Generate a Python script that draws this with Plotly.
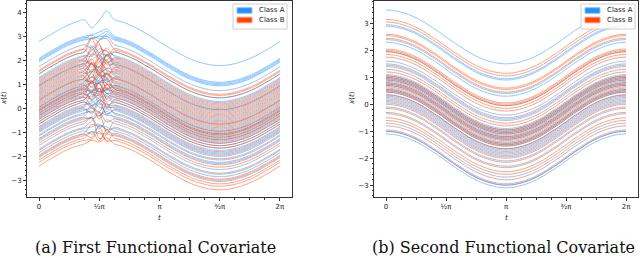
import math
import plotly.graph_objects as go

# ---------------- data ----------------
# sampling positions t = k*pi/16, k = 0..32
t_values = [k * math.pi / 16 for k in range(33)]

# common curve shape of the first covariate (value relative to the curve's value at t=0)
shape_first = [0.00, 0.20, 0.38, 0.56, 0.71, 0.83, 0.92, 0.98, 1.00, 0.98, 0.92, 0.83,
               0.71, 0.56, 0.38, 0.20, 0.00, -0.20, -0.38, -0.56, -0.71, -0.83, -0.92,
               -0.98, -1.00, -0.98, -0.92, -0.83, -0.71, -0.56, -0.38, -0.20, 0.00]
# common curve shape of the second covariate (value relative to the curve's value at t=0)
shape_second = [0.00, -0.02, -0.08, -0.17, -0.29, -0.44, -0.62, -0.80, -1.00, -1.20, -1.38,
                -1.56, -1.71, -1.83, -1.92, -1.98, -2.00, -1.98, -1.92, -1.83, -1.71, -1.56,
                -1.38, -1.20, -1.00, -0.80, -0.62, -0.44, -0.29, -0.17, -0.08, -0.02, 0.00]

# first covariate: curve value at t=0 per curve
first_A_levels = [2.80, 2.10, 2.05, 2.00, 1.95, 1.75, 1.45, 1.30, 1.20, 1.05, 0.95, 0.85,
                  0.70, 0.55, 0.45, 0.35, 0.25, 0.15, 0.05, 0.00, -0.05, -0.10, -0.20,
                  -0.25, -0.30, -0.40, -0.45, -0.55, -0.65, -0.75, -0.85, -0.90, -1.00,
                  -1.10, -1.25, -1.30, -1.55, -1.75, -1.85, -2.05]
# local wiggle near t = pi/2 (added at t = 7pi/16, 8pi/16, 9pi/16)
first_A_wiggles = [(-0.40, -0.10, 0.30), (0.00, 0.10, 0.25), (-0.10, 0.00, 0.20), (0.10, -0.10, 0.15),
                   (0.00, 0.05, 0.10), (-0.20, 0.10, 0.30), (0.20, -0.10, -0.20), (-0.10, 0.20, 0.10),
                   (0.30, 0.00, -0.30), (-0.20, -0.30, 0.20), (0.10, 0.30, -0.10), (-0.30, 0.10, 0.40),
                   (0.20, -0.20, 0.00), (0.00, 0.20, -0.30), (-0.40, 0.00, 0.20), (0.30, 0.20, -0.20),
                   (-0.10, -0.20, 0.30), (0.20, 0.00, 0.10), (-0.30, 0.30, 0.00), (0.10, -0.30, -0.20),
                   (0.40, 0.10, -0.30), (-0.20, 0.20, 0.30), (0.00, -0.10, 0.00), (0.20, 0.30, -0.10),
                   (-0.30, -0.10, 0.20), (0.10, 0.00, -0.30), (-0.10, 0.30, 0.10), (0.30, -0.20, 0.20),
                   (-0.20, 0.00, -0.20), (0.00, 0.20, 0.30), (0.20, -0.10, -0.10), (-0.30, 0.10, 0.00),
                   (0.10, 0.20, -0.20), (0.00, -0.20, 0.10), (0.30, 0.10, 0.00), (-0.10, 0.00, 0.20),
                   (0.20, -0.30, 0.10), (0.00, 0.10, -0.10), (-0.20, 0.10, 0.10), (0.10, 0.00, 0.00)]

first_B_levels = [1.60, 1.55, 1.45, 1.25, 1.15, 1.10, 1.00, 0.95, 0.90, 0.80, 0.75, 0.65,
                  0.60, 0.50, 0.40, 0.35, 0.30, 0.20, 0.10, 0.05, -0.05, -0.10, -0.15,
                  -0.20, -0.30, -0.35, -0.45, -0.55, -0.65, -0.80, -0.95, -1.15, -1.35,
                  -1.45, -1.70, -1.95, -2.00, -2.15, -2.25, -2.40]
first_B_wiggles = [(0.40, 0.10, -0.40), (-0.30, 0.30, 0.40), (0.50, -0.20, -0.40), (-0.50, -0.10, 0.30),
                   (0.30, 0.50, -0.20), (-0.20, -0.50, 0.20), (0.60, 0.00, -0.30), (-0.40, 0.40, 0.50),
                   (0.20, -0.40, 0.40), (0.50, 0.30, -0.50), (-0.60, 0.00, 0.30), (0.30, -0.30, -0.20),
                   (-0.30, 0.50, 0.00), (0.40, -0.10, 0.50), (-0.50, -0.30, -0.30), (0.60, 0.30, 0.10),
                   (-0.20, 0.20, -0.50), (0.30, -0.50, 0.30), (-0.40, 0.10, 0.40), (0.50, 0.40, -0.20),
                   (-0.30, -0.40, 0.10), (0.20, 0.50, 0.40), (-0.50, 0.00, -0.40), (0.40, -0.30, 0.20),
                   (-0.20, 0.40, -0.30), (0.50, 0.00, 0.40), (-0.40, -0.20, 0.30), (0.30, 0.40, -0.40),
                   (-0.30, -0.50, 0.20), (0.40, 0.20, 0.00), (-0.20, 0.30, -0.30), (0.30, -0.30, 0.40),
                   (0.00, 0.20, -0.20), (0.10, -0.80, -0.60), (0.20, 0.50, -0.30), (0.30, 0.20, -0.40),
                   (-0.20, 0.30, 0.10), (0.20, -0.20, 0.30), (0.00, 0.30, -0.10), (0.10, 0.00, 0.20)]

# second covariate: curve value at t=0 per curve
second_A_levels = [3.50, 2.95, 2.90, 2.40, 2.30, 1.95, 1.60, 1.45, 1.40, 1.10, 1.05, 1.00,
                   0.95, 0.90, 0.85, 0.80, 0.75, 0.70, 0.60, 0.55, 0.50, 0.45, 0.35, 0.30,
                   0.20, 0.15, 0.05, -0.10, -0.35, -0.70, -0.95, -1.00, -1.10]
second_B_levels = [3.15, 3.05, 2.60, 2.55, 2.45, 2.05, 2.00, 1.95, 1.85, 1.75, 1.50, 1.30,
                   1.20, 1.05, 1.00, 0.95, 0.90, 0.80, 0.75, 0.70, 0.65, 0.55, 0.50, 0.45,
                   0.35, 0.25, 0.10, 0.00, -0.15, -0.30, -0.50, -0.60, -0.80, -1.00]

class_names = ["Class A", "Class B"]
class_colors = ["#1E90FF", "#FF4500"]
class_edge_colors = ["#8cc4ff", "#ff9a7a"]

x_tick_vals = [0, math.pi / 2, math.pi, 3 * math.pi / 2, 2 * math.pi]
x_tick_text = ["0", "½π", "π", "³⁄₂π", "2π"]

captions = ["(a) First Functional Covariate", "(b) Second Functional Covariate"]

# ---------------- figure ----------------
fig = go.Figure()


def add_curve(xaxis, yaxis, y, color):
    fig.add_trace(go.Scatter(
        x=t_values, y=y, mode="lines", line=dict(color=color, width=1, shape="spline", smoothing=0.8),
        opacity=0.5, showlegend=False, hoverinfo="skip", xaxis=xaxis, yaxis=yaxis))


def first_curve(level, wig):
    y = [level + s for s in shape_first]
    y[7] += wig[0]
    y[8] += wig[1]
    y[9] += wig[2]
    return y


nA, nB = len(first_A_levels), len(first_B_levels)
for i in range(max(nA, nB)):
    if i < nA:
        add_curve("x", "y", first_curve(first_A_levels[i], first_A_wiggles[i]), class_colors[0])
    if i < nB:
        add_curve("x", "y", first_curve(first_B_levels[i], first_B_wiggles[i]), class_colors[1])

nA, nB = len(second_A_levels), len(second_B_levels)
for i in range(max(nA, nB)):
    if i < nA:
        add_curve("x2", "y2", [second_A_levels[i] + s for s in shape_second], class_colors[0])
    if i < nB:
        add_curve("x2", "y2", [second_B_levels[i] + s for s in shape_second], class_colors[1])

W, H = 640, 258
left_dom = [27 / W, 292 / W]
right_dom = [374 / W, 638 / W]
y_dom = [61 / H, 0.997]
x_range = [-0.05 * 2 * math.pi, 2 * math.pi * 1.05]

tickfont = dict(family="DejaVu Sans", size=7, color="#222")
common_x = dict(range=x_range, tickvals=x_tick_vals, ticktext=x_tick_text, ticks="outside", ticklen=3,
                tickwidth=0.8, tickcolor="#333", showline=True, mirror=True, linecolor="#333", linewidth=1,
                showgrid=False, zeroline=False, tickfont=tickfont, automargin=False,
                minor=dict(ticks="outside", ticklen=1.5, tickwidth=0.6, tickcolor="#333", tick0=0, dtick=math.pi / 8))
common_y = dict(ticks="outside", ticklen=3, tickwidth=0.8, tickcolor="#333", showline=True, mirror=True,
                linecolor="#333", linewidth=1, showgrid=False, zeroline=False, tickfont=tickfont,
                automargin=False, dtick=1,
                minor=dict(ticks="outside", ticklen=1.5, tickwidth=0.6, tickcolor="#333", dtick=0.2))

fig.update_layout(
    width=W, height=H, margin=dict(l=0, r=0, t=0, b=0),
    paper_bgcolor="white", plot_bgcolor="white", showlegend=False,
    xaxis=dict(domain=left_dom, anchor="y", **common_x),
    yaxis=dict(domain=y_dom, anchor="x", range=[-3.7, 4.51], **common_y),
    xaxis2=dict(domain=right_dom, anchor="y2", **common_x),
    yaxis2=dict(domain=y_dom, anchor="x2", range=[-3.44, 3.84], **common_y),
)

# hand-drawn legends (box, patches, labels) in pixel positions
shapes = []
annots = []
for box_left in [233, 581]:
    shapes.append(dict(type="rect", xref="paper", yref="paper", x0=box_left / W, x1=(box_left + 54) / W,
                       y0=1 - 29 / H, y1=1 - 4 / H, fillcolor="rgba(255,255,255,0.85)",
                       line=dict(color="#d0d0d0", width=1), layer="above"))
    for j, (name, col, edge) in enumerate(zip(class_names, class_colors, class_edge_colors)):
        yc = 10.5 + j * 9.5
        shapes.append(dict(type="rect", xref="paper", yref="paper", x0=(box_left + 4) / W, x1=(box_left + 19) / W,
                           y0=1 - (yc + 2.8) / H, y1=1 - (yc - 2.8) / H, fillcolor=col,
                           line=dict(color=edge, width=1), layer="above"))
        annots.append(dict(x=(box_left + 24) / W, y=1 - yc / H, xref="paper", yref="paper", text=name,
                           showarrow=False, xanchor="left", yanchor="middle",
                           font=dict(family="DejaVu Sans", size=7, color="#222")))

axis_font = dict(family="DejaVu Sans", size=7, color="#222")
for cx, yx in [((27 + 292) / 2 / W, 4 / W), ((374 + 638) / 2 / W, 352 / W)]:
    annots.append(dict(x=cx, y=1 - 218 / H, xref="paper", yref="paper", text="<i>t</i>", showarrow=False,
                       font=axis_font, xanchor="center", yanchor="middle"))
    annots.append(dict(x=yx, y=1 - 98 / H, xref="paper", yref="paper", text="<i>x</i>(<i>t</i>)", showarrow=False,
                       font=axis_font, textangle=-90, xanchor="center", yanchor="middle"))
for cx, txt in zip([155 / W, 503 / W], captions):
    annots.append(dict(x=cx, y=1 - 247 / H, xref="paper", yref="paper", text=txt, showarrow=False,
                       font=dict(family="DejaVu Serif", size=16, color="#111"), xanchor="center", yanchor="middle"))
fig.update_layout(annotations=annots, shapes=shapes)

fig.write_html("out.html", config={"displayModeBar": False},
               post_script="document.body.style.margin='0';")
